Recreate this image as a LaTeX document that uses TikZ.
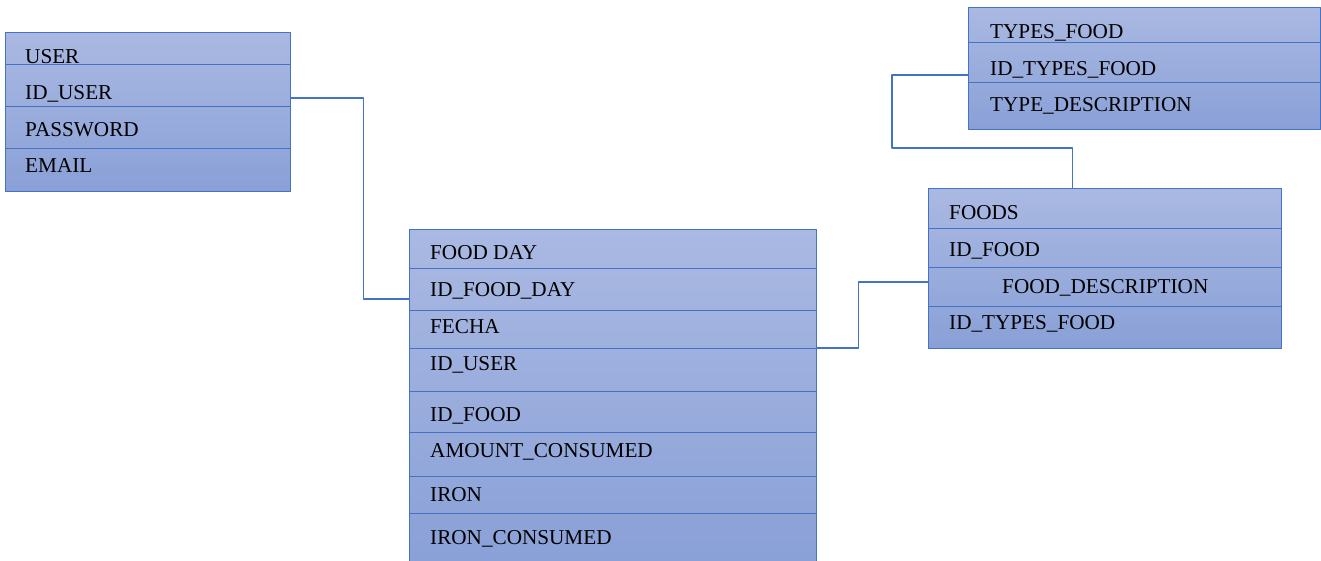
\documentclass[tikz,border=0pt]{standalone}
\usepackage{fontspec}
\setmainfont{Liberation Serif}
\usetikzlibrary{calc}
\definecolor{erblue}{RGB}{68,114,196}
\definecolor{ertop}{RGB}{170,185,226}
\definecolor{erbot}{RGB}{137,160,215}
\begin{document}
\begin{tikzpicture}[x=1pt, y=-1pt, line join=round, font=\fontsize{21.2}{25}\selectfont,
		tablebox/.style={draw=erblue, line width=1.1pt, top color=ertop, bottom color=erbot, anchor=north west, inner sep=0pt},
		sep/.style={erblue, line width=0.9pt},
		link/.style={erblue, line width=1.1pt},
		field/.style={anchor=west, inner sep=0pt, text height=0.66em, text depth=0pt, yshift=-4pt}]
	\useasboundingbox (0,0) rectangle (1321,560);
	\node[tablebox, minimum width=285, minimum height=159] (user) at (5,32) {};
	\node[tablebox, minimum width=407, minimum height=337] (fday) at (409,229) {};
	\node[tablebox, minimum width=353, minimum height=160] (foods) at (928,188) {};
	\node[tablebox, minimum width=352, minimum height=122] (types) at (968,7) {};
	\foreach \y in {64, 106, 148} {
		\draw[sep] (user.west |- 0,\y) -- (user.east |- 0,\y);
	}
	\foreach \y in {268, 310, 348, 391, 432, 476, 513} {
		\draw[sep] (fday.west |- 0,\y) -- (fday.east |- 0,\y);
	}
	\foreach \y in {228, 267, 306} {
		\draw[sep] (foods.west |- 0,\y) -- (foods.east |- 0,\y);
	}
	\foreach \y in {42, 82} {
		\draw[sep] (types.west |- 0,\y) -- (types.east |- 0,\y);
	}
	\foreach \y/\t [count=\i] in {56/USER, 92/ID\_USER, 129/PASSWORD, 165/EMAIL} {
		\node[field] (user-\i) at (25,\y) {\t};
	}
	\foreach \y/\t [count=\i] in {252/FOOD DAY, 289/ID\_FOOD\_DAY, 326/FECHA, 363/ID\_USER, 414/ID\_FOOD, 450/AMOUNT\_CONSUMED, 494/IRON, 537/IRON\_CONSUMED} {
		\node[field] (fday-\i) at (430,\y) {\t};
	}
	\foreach \x/\y/\t [count=\i] in {949/212/FOODS, 949/249/ID\_FOOD, 1002/286/FOOD\_DESCRIPTION, 949/322/ID\_TYPES\_FOOD} {
		\node[field] (foods-\i) at (\x,\y) {\t};
	}
	\foreach \y/\t [count=\i] in {31/TYPES\_FOOD, 68/ID\_TYPES\_FOOD, 104/TYPE\_DESCRIPTION} {
		\node[field] (types-\i) at (990,\y) {\t};
	}
	\draw[link] ($(user-2 -| user.east)+(0,2)$) -- ++(72,0) |- ($(fday-2 -| fday.west)+(0,6)$);
	\draw[link] ($(fday-4 -| fday.east)+(0,-19)$) -- ++(41,0) |- ($(foods-3 -| foods.west)+(0,-8)$);
	\draw[link] ($(types-2 -| types.west)+(0,3)$) -- ++(-76,0) -- ++(0,73) -| ($(foods.north)+(-33,0)$);
\end{tikzpicture}
\end{document}
